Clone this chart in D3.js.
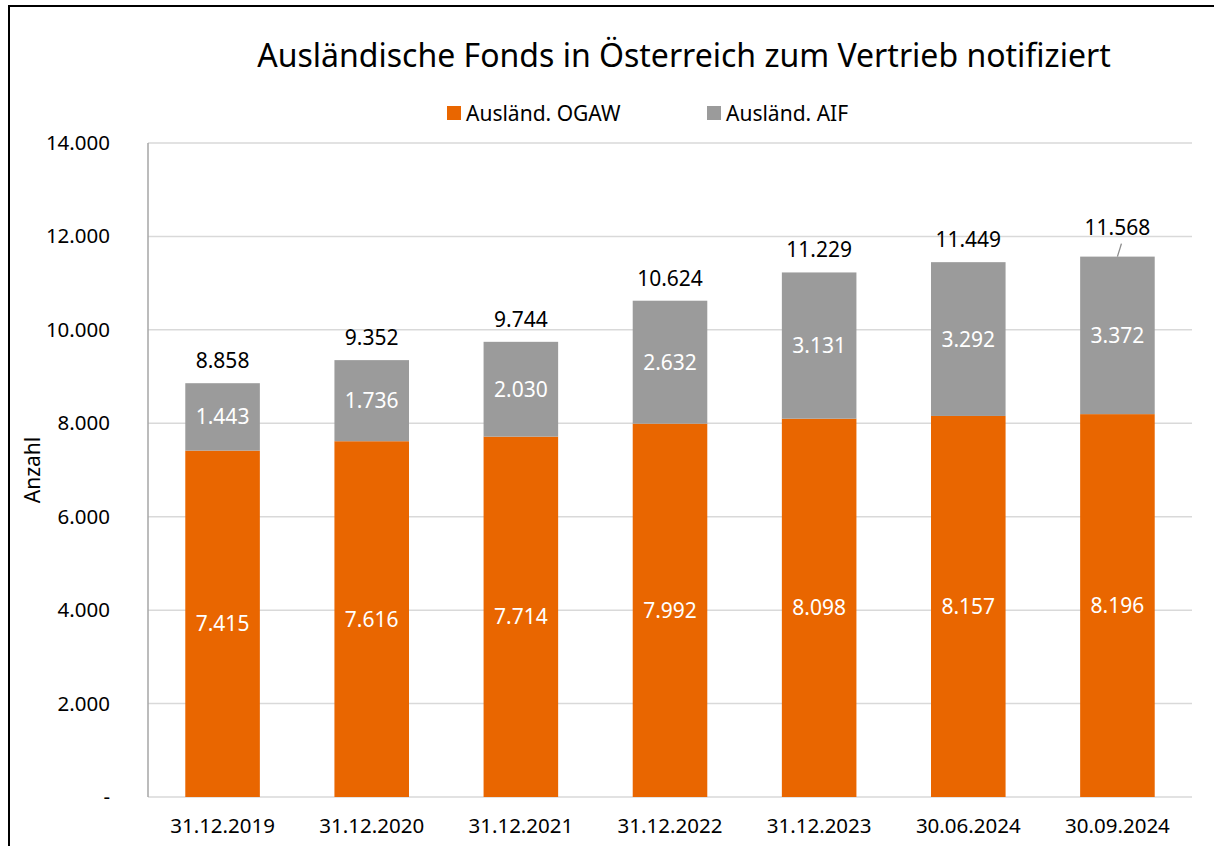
<!DOCTYPE html>
<html><head><meta charset="utf-8">
<script src="https://cdn.jsdelivr.net/npm/d3@7"></script>
<style>body{margin:0;background:#fff}svg{display:block}text{font-family:"Noto Sans",sans-serif}</style>
</head><body><svg id="c" width="1214" height="846"></svg>
<script>
const categories = ["31.12.2019","31.12.2020","31.12.2021","31.12.2022","31.12.2023","30.06.2024","30.09.2024"];
const ogaw = [7415,7616,7714,7992,8098,8157,8196];
const aif = [1443,1736,2030,2632,3131,3292,3372];
const totals = [8858,9352,9744,10624,11229,11449,11568];
const yTicks = [0,2000,4000,6000,8000,10000,12000,14000];
const seriesNames = ["Ausländ. OGAW","Ausländ. AIF"];
const colors = ["#E96600","#9B9B9B"];

const fmt = v => v === 0 ? "-" : d3.format(",")(v).replace(/,/g,".");
const svg = d3.select("#c");
svg.append("rect").attr("x",9).attr("y",6).attr("width",1214).attr("height",846).attr("fill","none").attr("stroke","#000").attr("stroke-width",2);

const x = d3.scaleBand().domain(categories).range([148,1192]).paddingInner(0.5).paddingOuter(0.25);
const y = d3.scaleLinear().domain([0,14000]).range([797,143]);

// gridlines
svg.append("g").selectAll("line").data(yTicks).join("line")
  .attr("x1",148).attr("x2",1192).attr("y1",d=>y(d)).attr("y2",d=>y(d))
  .attr("stroke","#D9D9D9").attr("stroke-width",1.5);

// y axis
const yAxis = d3.axisLeft(y).tickValues(yTicks).tickFormat(fmt).tickSize(0).tickPadding(38);
const gy = svg.append("g").attr("transform","translate(148,0)").call(yAxis);
gy.select(".domain").remove();
gy.selectAll("text").attr("font-size",20.5).attr("fill","#000").attr("font-family","Noto Sans");
svg.append("line").attr("x1",148).attr("x2",148).attr("y1",143).attr("y2",797).attr("stroke","#A6A6A6").attr("stroke-width",1.5);

// x axis
const xAxis = d3.axisBottom(x).tickSize(0).tickPadding(21);
const gx = svg.append("g").attr("transform","translate(0,797)").call(xAxis);
gx.select(".domain").remove();
gx.selectAll("text").attr("font-size",20.5).attr("fill","#000").attr("font-family","Noto Sans");

const stack = d3.stack().keys([0,1]).value((d,k)=>k===0?ogaw[d]:aif[d]);
const layers = stack(categories.map((c,i)=>i));
layers.forEach((layer,k)=>{
  svg.append("g").selectAll("rect").data(layer).join("rect")
    .attr("x",(d,i)=>x(categories[i])).attr("width",x.bandwidth())
    .attr("y",d=>y(d[1])).attr("height",d=>y(d[0])-y(d[1]))
    .attr("fill",colors[k]);
  svg.append("g").selectAll("text").data(layer).join("text")
    .attr("x",(d,i)=>x(categories[i])+x.bandwidth()/2)
    .attr("y",d=>(y(d[0])+y(d[1]))/2)
    .attr("dy","0.36em").attr("text-anchor","middle").attr("fill","#fff").attr("font-size",21)
    .text((d,i)=>fmt(k===0?ogaw[i]:aif[i]));
});

// totals
const extra = [0,0,0,0,0,0,7];
svg.append("g").selectAll("text").data(totals).join("text")
  .attr("x",(d,i)=>x(categories[i])+x.bandwidth()/2)
  .attr("y",(d,i)=>y(d)-15-extra[i])
  .attr("text-anchor","middle").attr("fill","#000").attr("font-size",21)
  .text(d=>fmt(d));
// leader line for last
const li = totals.length-1;
const cx = x(categories[li])+x.bandwidth()/2;
svg.append("line").attr("x1",cx).attr("y1",y(totals[li])).attr("x2",cx+4).attr("y2",y(totals[li])-13)
  .attr("stroke","#8C8C8C").attr("stroke-width",1.3);

// y title
svg.append("text").attr("transform","translate(40,470) rotate(-90)").attr("text-anchor","middle")
  .attr("font-size",21).attr("fill","#000").text("Anzahl");

// title
svg.append("text").attr("x",684).attr("y",67).attr("text-anchor","middle").attr("font-size",32).attr("fill","#000")
  .text("Ausländische Fonds in Österreich zum Vertrieb notifiziert");

// legend
const lg = [{x:447},{x:707}];
lg.forEach((l,k)=>{
  svg.append("rect").attr("x",l.x).attr("y",106).attr("width",14).attr("height",14).attr("fill",colors[k]);
  svg.append("text").attr("x",l.x+19).attr("y",121).attr("font-size",21).attr("fill","#000").text(seriesNames[k]);
});
</script></body></html>
